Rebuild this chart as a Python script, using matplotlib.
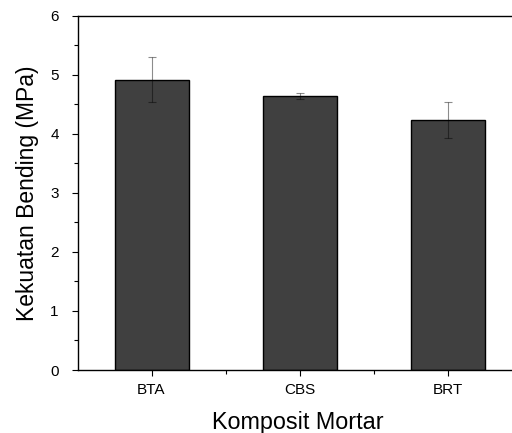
import numpy as np
import matplotlib.pyplot as plt
from matplotlib.ticker import MultipleLocator, FixedLocator

plt.rcParams['font.family'] = ['Liberation Sans', 'DejaVu Sans']

kategori = ['BTA', 'CBS', 'BRT']
kekuatan = [4.91, 4.64, 4.23]
galat = [0.38, 0.05, 0.30]

fig = plt.figure(figsize=(5.12, 4.33), dpi=100)
ax = fig.add_axes([77.5/512, 1-370/433, 444/512, 354.5/433])

x = np.arange(len(kategori))
ax.bar(x, kekuatan, width=0.5, color='#404040', edgecolor='black', linewidth=1.0, zorder=2)
ax.errorbar(x, kekuatan, yerr=galat, fmt='none', ecolor='black', alpha=0.45,
            elinewidth=0.8, capsize=3.0, capthick=0.8, zorder=3)

ax.set_xlim(-0.5, 2.5)
ax.set_ylim(0, 6)
ax.set_xticks(x)
ax.set_xticklabels(kategori)
ax.xaxis.set_minor_locator(FixedLocator([0.5, 1.5]))
ax.yaxis.set_major_locator(MultipleLocator(1))
ax.yaxis.set_minor_locator(MultipleLocator(0.5))

ax.tick_params(axis='both', which='major', direction='out', length=4.5, width=0.8, labelsize=11)
ax.tick_params(axis='y', which='major', pad=9)
ax.tick_params(axis='x', which='major', pad=5)
ax.tick_params(axis='both', which='minor', direction='out', length=2.8, width=0.8)
for s in ax.spines.values():
    s.set_linewidth(1.0)
ax.spines['right'].set_visible(False)

ax.set_xlabel('Komposit Mortar', fontsize=16.8)
ax.set_ylabel('Kekuatan Bending (MPa)', fontsize=16.5)
ax.xaxis.set_label_coords((298-77.5)/444, -0.115)
ax.yaxis.set_label_coords(-(77.5-39)/444, (370-193)/354.5)

fig.savefig('out.png', dpi=100)
